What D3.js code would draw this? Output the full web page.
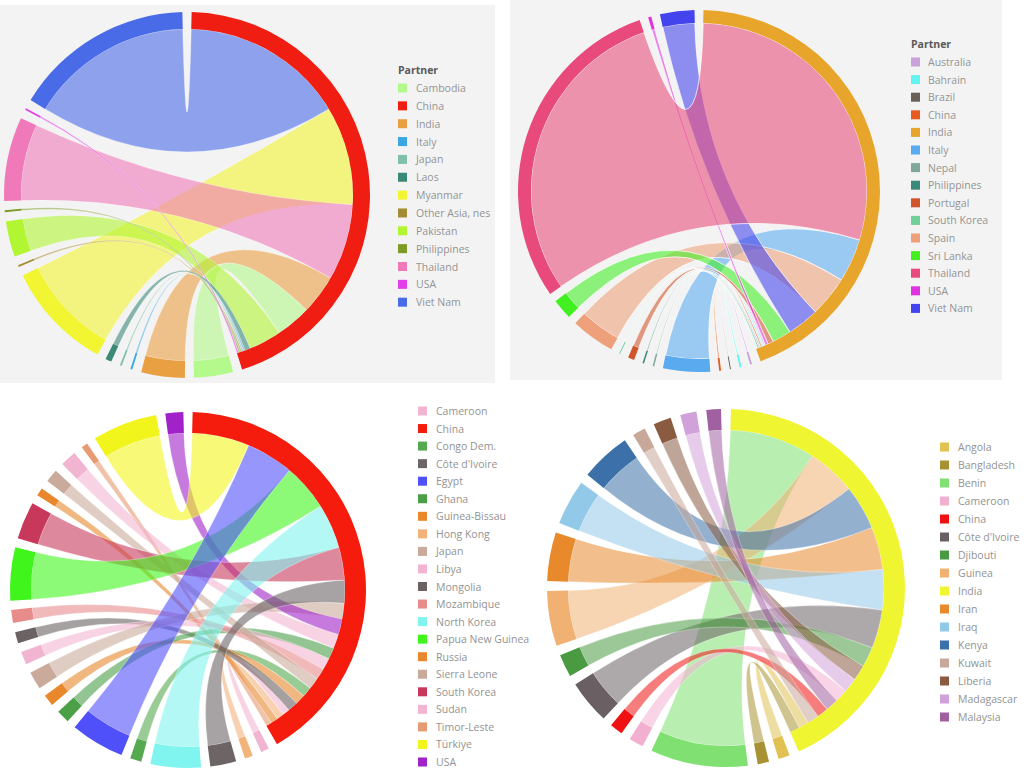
<!DOCTYPE html>
<html>
<head>
<meta charset="utf-8">
<script src="https://cdn.jsdelivr.net/npm/d3@7"></script>
<style>
  body { margin: 0; background: #fff; }
  svg { display: block; }
</style>
</head>
<body>
<div id="charts"></div>
<script>
// top left: China
var tlHub = "China";
var tlPartners = ["Cambodia", "India", "Italy", "Japan", "Laos", "Myanmar", "Other Asia, nes",
  "Pakistan", "Philippines", "Thailand", "USA", "Viet Nam"];
var tlValues = [12.5, 14, 0.6, 0.6, 2, 35, 0.6, 11.5, 0.6, 27, 0.6, 58];
var tlLegend = ["Cambodia", "China", "India", "Italy", "Japan", "Laos", "Myanmar", "Other Asia, nes",
  "Pakistan", "Philippines", "Thailand", "USA", "Viet Nam"];
var tlPalette = ["#b4f98c", "#f01e12", "#e9a043", "#3aa7e2", "#80bfa9", "#3b8a78", "#f1f532",
  "#a38c33", "#b2f533", "#7c9b22", "#f07ab9", "#e23fe8", "#4a6be8"];

// top right: India
var trHub = "India";
var trPartners = ["Australia", "Bahrain", "Brazil", "China", "Italy", "Nepal", "Philippines", "Portugal",
  "South Korea", "Spain", "Sri Lanka", "Thailand", "USA", "Viet Nam"];
var trValues = [0.6, 0.6, 0.3, 0.6, 15, 0.5, 0.5, 2, 0.3, 14, 6.5, 105, 1, 11];
var trLegend = ["Australia", "Bahrain", "Brazil", "China", "India", "Italy", "Nepal", "Philippines",
  "Portugal", "South Korea", "Spain", "Sri Lanka", "Thailand", "USA", "Viet Nam"];
var trPalette = ["#c9a2d9", "#62f4f0", "#6a5f59", "#e85a1f", "#e8a52c", "#5aaaf0", "#7fa899",
  "#3b8a79", "#d0552b", "#70cf9b", "#eea07b", "#42f022", "#e84b7b", "#e132e1", "#4444ee"];

// bottom left: China
var blHub = "China";
var blPartners = ["Cameroon", "Hong Kong", "Côte d'Ivoire", "North Korea", "Congo Dem.", "Egypt", "Ghana",
  "Guinea-Bissau", "Japan", "Libya", "Mongolia", "Mozambique", "Papua New Guinea", "South Korea",
  "Russia", "Sierra Leone", "Sudan", "Timor-Leste", "Türkiye", "USA"];
var blValues = [2.5, 2.5, 8, 15.5, 3.5, 16.6, 4, 3.5, 5.5, 4, 3.5, 4, 16.4, 11.5, 2.5, 4, 5, 2, 20, 5.5];
var blLegend = ["Cameroon", "China", "Congo Dem.", "Côte d'Ivoire", "Egypt", "Ghana", "Guinea-Bissau",
  "Hong Kong", "Japan", "Libya", "Mongolia", "Mozambique", "North Korea", "Papua New Guinea", "Russia",
  "Sierra Leone", "South Korea", "Sudan", "Timor-Leste", "Türkiye", "USA"];
var blPalette = ["#f2b5d1", "#f51c0e", "#55a94f", "#6d6466", "#5050fa", "#4a9f47", "#e8872b",
  "#f2b37b", "#c9aa9b", "#f2b5d1", "#6a6263", "#e88b8b", "#80f4ee", "#3ff51c", "#e8872b",
  "#c9aa9b", "#c8385b", "#f2b5d1", "#e89a72", "#f1f51c", "#a022c8"];

// bottom right: India
var brHub = "India";
var brPartners = ["Angola", "Bangladesh", "Benin", "Cameroon", "China", "Côte d'Ivoire", "Djibouti",
  "Guinea", "Iran", "Iraq", "Kenya", "Kuwait", "Liberia", "Madagascar", "Malaysia"];
var brValues = [3.5, 3.5, 30, 4.5, 4, 13.5, 7, 17, 15, 14, 15.5, 4, 5.5, 5, 4.5];
var brLegend = ["Angola", "Bangladesh", "Benin", "Cameroon", "China", "Côte d'Ivoire", "Djibouti",
  "Guinea", "India", "Iran", "Iraq", "Kenya", "Kuwait", "Liberia", "Madagascar", "Malaysia"];
var brPalette = ["#e0c152", "#a89132", "#80e071", "#f2b0d1", "#f01212", "#6a6063", "#4a9a41",
  "#f0b172", "#f0f532", "#e8892b", "#92c9e8", "#3b70a8", "#c8a899", "#8a5b41", "#d1a1d9", "#a161a1"];


var svg = d3.select("#charts").append("svg")
  .attr("width", 1024)
  .attr("height", 782);

// grey panels behind the two upper charts
svg.append("rect")
  .attr("x", 0).attr("y", 5)
  .attr("width", 495).attr("height", 378)
  .attr("fill", "#f3f3f3");

svg.append("rect")
  .attr("x", 510).attr("y", 0)
  .attr("width", 492).attr("height", 380)
  .attr("fill", "#f3f3f3");


function drawChord(opt) {
  var color = d3.scaleOrdinal().domain(opt.legend).range(opt.palette);
  var names = [opt.hub].concat(opt.partners);

  // hub row/column hold the flows, partners only talk to the hub
  var matrix = names.map(function(d, i) {
    return names.map(function(e, j) {
      if (i === 0 && j > 0) return opt.values[j - 1];
      if (j === 0 && i > 0) return opt.values[i - 1];
      return 0;
    });
  });

  var pad = opt.pad * Math.PI / 180;
  var chords = d3.chord()
    .padAngle(pad)
    .sortSubgroups(d3.descending)(matrix);

  var g = svg.append("g")
    .attr("transform", "translate(" + opt.cx + "," + opt.cy + ") rotate(" + (opt.pad / 2) + ")");

  var inner = opt.r - opt.ring;

  // which ribbon sits on top differs between the charts
  var ordered = chords.slice().sort(function(a, b) {
    if (opt.order === "value") return a.source.value - b.source.value;
    return a.target.index - b.target.index;
  });
  if (opt.raise) {
    ordered.sort(function(a, b) {
      return (names[a.target.index] === opt.raise) - (names[b.target.index] === opt.raise);
    });
  }

  g.selectAll("path.ribbon")
    .data(ordered)
    .enter()
    .append("path")
    .attr("class", "ribbon")
    .attr("d", d3.ribbon().radius(inner))
    .attr("fill", function(d) { return color(names[d.target.index]); })
    .attr("fill-opacity", opt.alpha)
    .attr("stroke", "#fff")
    .attr("stroke-opacity", opt.edge)
    .attr("stroke-width", 0.8);

  g.selectAll("path.group")
    .data(chords.groups)
    .enter()
    .append("path")
    .attr("class", "group")
    .attr("d", d3.arc().innerRadius(inner).outerRadius(opt.r))
    .attr("fill", function(d) { return color(names[d.index]); });
}


function drawLegend(opt) {
  var color = d3.scaleOrdinal().domain(opt.legend).range(opt.palette);
  var g = svg.append("g").attr("transform", "translate(" + opt.x + "," + opt.y + ")");

  if (opt.title) {
    g.append("text")
      .attr("x", 0)
      .attr("y", -opt.step + 4)
      .text(opt.title)
      .style("font-family", "'Open Sans', 'Noto Sans', sans-serif")
      .style("font-size", "10.5px")
      .attr("font-weight", "bold")
      .attr("fill", "#5a5a5a");
  }

  var row = g.selectAll("g.item")
    .data(opt.legend)
    .enter()
    .append("g")
    .attr("class", "item")
    .attr("transform", function(d, i) { return "translate(0," + (i * opt.step) + ")"; });

  row.append("rect")
    .attr("x", 0)
    .attr("y", -4.5)
    .attr("width", 9)
    .attr("height", 9)
    .attr("fill", function(d) { return color(d); });

  row.append("text")
    .attr("x", opt.textX)
    .attr("y", 4)
    .text(function(d) { return d; })
    .style("font-family", "'Open Sans', 'Noto Sans', sans-serif")
    .style("font-size", "10.5px")
    .attr("fill", "#939393");
}


drawChord({cx: 187, cy: 195, r: 183, ring: 17, pad: 2.92, alpha: 0.6, edge: 0.4, order: "index",
  hub: tlHub, partners: tlPartners, values: tlValues, legend: tlLegend, palette: tlPalette});
drawChord({cx: 699, cy: 191, r: 181, ring: 13, pad: 2.84, alpha: 0.58, edge: 0.9, order: "index",
  raise: "Thailand",
  hub: trHub, partners: trPartners, values: trValues, legend: trLegend, palette: trPalette});
drawChord({cx: 188, cy: 590, r: 178, ring: 21, pad: 3.0, alpha: 0.6, edge: 0.4, order: "value",
  hub: blHub, partners: blPartners, values: blValues, legend: blLegend, palette: blPalette});
drawChord({cx: 726, cy: 588, r: 179, ring: 21, pad: 3.2, alpha: 0.55, edge: 0.4, order: "index",
  hub: brHub, partners: brPartners, values: brValues, legend: brLegend, palette: brPalette});

drawLegend({x: 398, y: 88, step: 17.85, textX: 18, title: "Partner", legend: tlLegend, palette: tlPalette});
drawLegend({x: 911, y: 62, step: 17.6, textX: 17, title: "Partner", legend: trLegend, palette: trPalette});
drawLegend({x: 418, y: 411, step: 17.55, textX: 18, legend: blLegend, palette: blPalette});
drawLegend({x: 940, y: 447, step: 18, textX: 18, legend: brLegend, palette: brPalette});
</script>
</body>
</html>
